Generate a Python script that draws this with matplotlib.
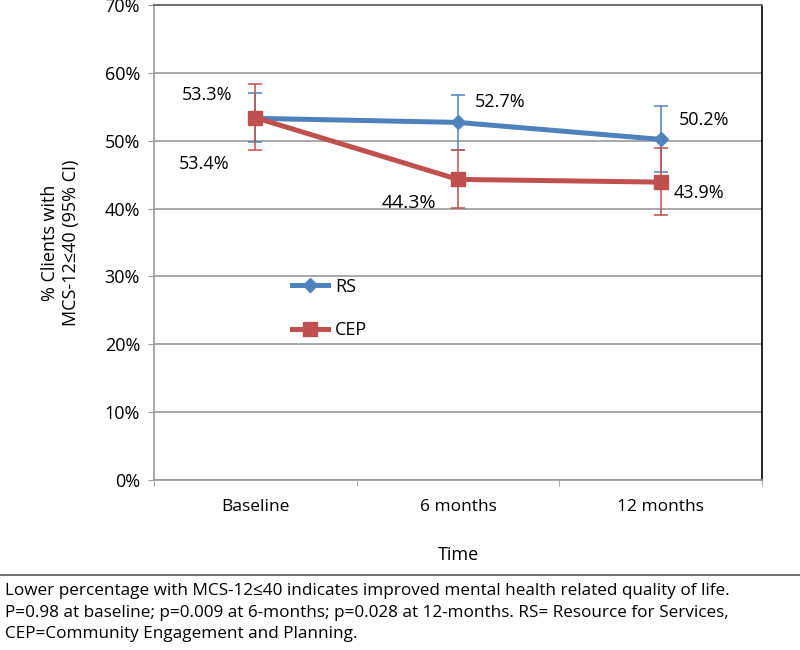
import matplotlib
matplotlib.use("Agg")
import matplotlib.pyplot as plt
from matplotlib.lines import Line2D

plt.rcParams['font.family'] = ['Open Sans', 'DejaVu Sans']

# data
times = ['Baseline', '6 months', '12 months']
rs = [53.3, 52.7, 50.2]
cep = [53.4, 44.3, 43.9]
rs_low = [49.8, 48.6, 45.4]
rs_high = [57.0, 56.8, 55.1]
cep_low = [48.6, 40.1, 39.0]
cep_high = [58.3, 48.6, 48.9]
rs_labels = ['53.3%', '52.7%', '50.2%']
cep_labels = ['53.4%', '44.3%', '43.9%']

blue = '#4F81BD'
red = '#C0504D'

fig = plt.figure(figsize=(8, 6.5), dpi=100)
ax = fig.add_axes([0.1925, 0.2615, 0.76, 0.7308])

x = list(range(len(times)))
rs_err = [[v - lo for v, lo in zip(rs, rs_low)], [hi - v for v, hi in zip(rs, rs_high)]]
cep_err = [[v - lo for v, lo in zip(cep, cep_low)], [hi - v for v, hi in zip(cep, cep_high)]]

ax.errorbar(x, rs, yerr=rs_err, color=blue, lw=3.6, marker='D', ms=7,
            ecolor=blue, elinewidth=1.1, capsize=5, capthick=1.1, zorder=3)
ax.errorbar(x, cep, yerr=cep_err, color=red, lw=3.6, marker='s', ms=10,
            ecolor=red, elinewidth=1.1, capsize=5, capthick=1.1, zorder=4)

# data labels (offset in pixels)
rs_off = [(-48, 23), (42, 20), (43, 19)]
cep_off = [(-51, -46), (-49, -24), (38, -11)]
for i in x:
    ax.annotate(rs_labels[i], (i, rs[i]), xytext=rs_off[i], textcoords='offset pixels',
                ha='center', va='center', fontsize=13)
    ax.annotate(cep_labels[i], (i, cep[i]), xytext=cep_off[i], textcoords='offset pixels',
                ha='center', va='center', fontsize=14 if i == 1 else 13)

ax.set_xlim(-0.5, 2.5)
ax.set_ylim(0, 70)
ax.set_yticks(range(0, 71, 10))
ax.set_yticklabels([f'{v}%' for v in range(0, 71, 10)], fontsize=13)
ax.set_xticks(x)
ax.set_xticklabels(times, fontsize=12.5)
ax.set_xticks([-0.5, 0.5, 1.5, 2.5], minor=True)
ax.tick_params(axis='x', which='major', length=0, pad=14)
ax.tick_params(axis='x', which='minor', length=4, color='#9a9a9a')
ax.tick_params(axis='y', length=4, color='#9a9a9a', pad=6)

ax.grid(axis='y', color='#9a9a9a', lw=1.2)
ax.set_axisbelow(True)
for s in ['left', 'bottom']:
    ax.spines[s].set_color('#9a9a9a')
    ax.spines[s].set_linewidth(1.2)
ax.spines['top'].set_color('#707070')
ax.spines['top'].set_linewidth(1.5)
ax.spines['right'].set_color('black')
ax.spines['right'].set_linewidth(1.2)

ax.set_xlabel('Time', fontsize=13, labelpad=22)
ax.set_ylabel('% Clients with\nMCS-12\u226440 (95% CI)', fontsize=13, labelpad=18)

handles = [Line2D([], [], color=blue, lw=3.6, marker='D', ms=7),
           Line2D([], [], color=red, lw=3.6, marker='s', ms=10)]
ax.legend(handles, ['RS', 'CEP'], loc='upper left', bbox_to_anchor=(0.2, 0.46),
          frameon=False, fontsize=13, handlelength=2.0, handletextpad=0.4, labelspacing=1.4)

# footer
fig.add_artist(Line2D([0, 1], [1 - 575 / 650, 1 - 575 / 650], color='#555555', lw=1.2))
fig.text(0.006, 1 - 583 / 650,
         'Lower percentage with MCS-12\u226440 indicates improved mental health related quality of life.\n'
         'P=0.98 at baseline; p=0.009 at 6-months; p=0.028 at 12-months. RS= Resource for Services,\n'
         'CEP=Community Engagement and Planning.',
         fontsize=12.3, va='top', ha='left', linespacing=1.46)

fig.savefig('out.png', dpi=100)
